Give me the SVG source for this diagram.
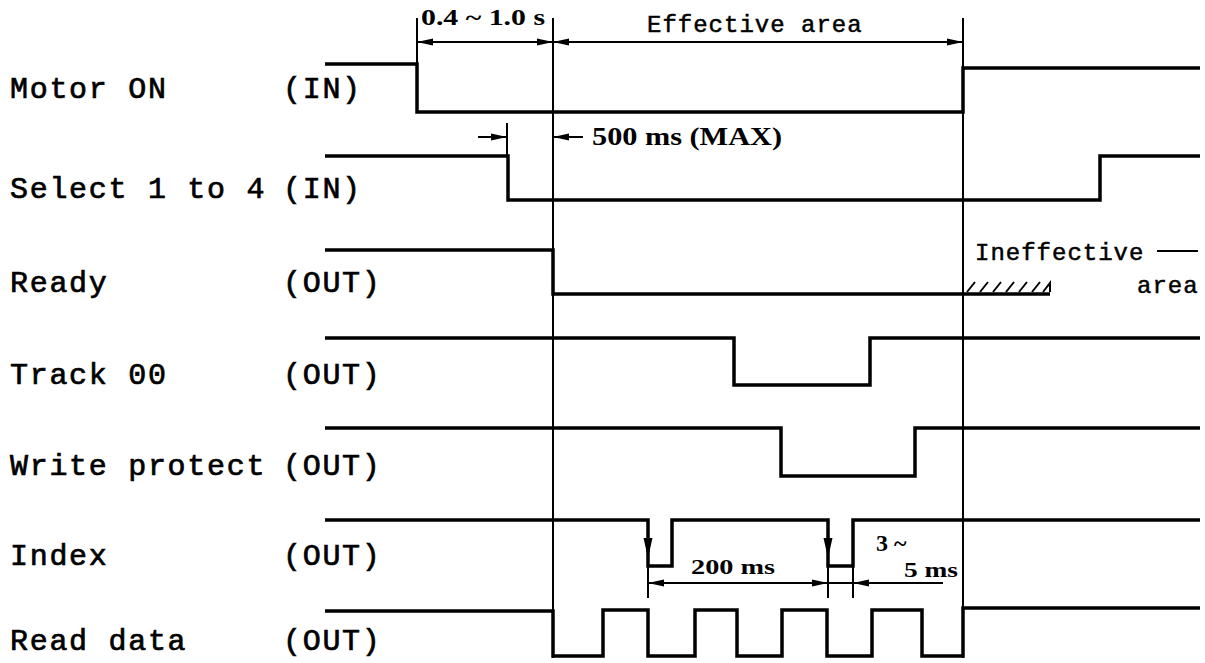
<svg xmlns="http://www.w3.org/2000/svg" width="1205" height="663" viewBox="0 0 1205 663">
<defs>
<marker id="ah" viewBox="0 0 16 8" refX="16" refY="4" markerWidth="16" markerHeight="8" markerUnits="userSpaceOnUse" orient="auto-start-reverse">
<path d="M0,0.6 L16,4 L0,7.4 z" fill="#000"/>
</marker>
<marker id="ahb" viewBox="0 0 20 10" refX="20" refY="5" markerWidth="20" markerHeight="10" markerUnits="userSpaceOnUse" orient="auto">
<path d="M0,0.5 L20,5 L0,9.5 z" fill="#000"/>
</marker>
<style>
.lbl{font-family:"Liberation Mono","DejaVu Sans Mono",monospace;font-size:30px;letter-spacing:1.7px;fill:#000;stroke:#000;stroke-width:0.7px}
.note{font-family:"Liberation Mono","DejaVu Sans Mono",monospace;font-size:24px;letter-spacing:1px;fill:#000;stroke:#000;stroke-width:0.5px}
.ser{font-family:"Liberation Serif","DejaVu Serif",serif;font-weight:bold;fill:#000}
.sig{fill:none;stroke:#000;stroke-width:3.5;stroke-linejoin:miter}
.ref{fill:none;stroke:#000;stroke-width:2}
.dim{fill:none;stroke:#000;stroke-width:2}
.arr{fill:none;stroke:#000;stroke-width:2;marker-end:url(#ah)}
.arrb{fill:none;stroke:#000;stroke-width:2;marker-end:url(#ahb)}
.arr2{fill:none;stroke:#000;stroke-width:2;marker-start:url(#ah);marker-end:url(#ah)}
</style>
</defs>
<rect width="1205" height="663" fill="#fff"/>

<g id="motor-on">
<text class="lbl" x="10" y="98">Motor ON</text>
<text class="lbl" x="283" y="98">(IN)</text>
<polyline class="sig" points="325,64 417,64 417,112 963,112 963,68 1200,68"/>
</g>

<g id="select">
<text class="lbl" x="10" y="198">Select 1 to 4</text>
<text class="lbl" x="283" y="198">(IN)</text>
<polyline class="sig" points="325,156 508,156 508,200 1100,200 1100,156 1200,156"/>
</g>

<g id="ready">
<text class="lbl" x="10" y="292">Ready</text>
<text class="lbl" x="283" y="292">(OUT)</text>
<polyline class="sig" points="325,250 553,250 553,294 1050,294"/>
<g class="ref">
<path d="M967,292 L975,282 M980,292 L988,282 M993,292 L1001,282 M1006,292 L1014,282 M1019,292 L1027,282 M1032,292 L1040,282 M1043,292 L1050,283 L1050,292"/>
</g>
<text class="note" x="975" y="260">Ineffective</text>
<line class="dim" x1="1157" y1="251" x2="1198" y2="251" stroke-width="3"/>
<text class="note" x="1137" y="293">area</text>
</g>

<g id="track00">
<text class="lbl" x="10" y="384">Track 00</text>
<text class="lbl" x="283" y="384">(OUT)</text>
<polyline class="sig" points="325,338 734,338 734,385 870,385 870,338 1200,338"/>
</g>

<g id="write-protect">
<text class="lbl" x="10" y="475">Write protect</text>
<text class="lbl" x="283" y="475">(OUT)</text>
<polyline class="sig" points="325,428 781,428 781,476 915,476 915,428 1200,428"/>
</g>

<g id="index">
<text class="lbl" x="10" y="565">Index</text>
<text class="lbl" x="283" y="565">(OUT)</text>
<polyline class="sig" points="325,520 648,520 648,566 672,566 672,520 828,520 828,566 853,566 853,520 1200,520"/>
</g>

<g id="read-data">
<text class="lbl" x="10" y="650">Read data</text>
<text class="lbl" x="283" y="650">(OUT)</text>
<polyline class="sig" points="325,611 553,611 553,656 603,656 603,610 648,610 648,656 695,656 695,610 737,610 737,656 782,656 782,610 827,610 827,656 872,656 872,610 922,610 922,656 963,656 963,608 1200,608"/>
</g>

<g id="connectors">
<line class="ref" x1="417" y1="18" x2="417" y2="64"/>
<line class="ref" x1="553" y1="18" x2="553" y2="658"/>
<line class="ref" x1="963" y1="18" x2="963" y2="658"/>
<line class="ref" x1="507" y1="123" x2="507" y2="156"/>
<line class="arr2" x1="417" y1="42" x2="553" y2="42"/>
<line class="arr2" x1="553" y1="42" x2="963" y2="42"/>
<line class="arr" x1="478" y1="137" x2="507" y2="137"/>
<line class="arr" x1="583" y1="137" x2="553" y2="137"/>
<line class="arrb" x1="648" y1="520" x2="648" y2="558"/>
<line class="arrb" x1="828" y1="520" x2="828" y2="558"/>
<line class="ref" x1="648" y1="566" x2="648" y2="598"/>
<line class="ref" x1="828" y1="566" x2="828" y2="598"/>
<line class="ref" x1="853" y1="566" x2="853" y2="598"/>
<line class="arr2" x1="648" y1="583" x2="828" y2="583"/>
<line class="dim" x1="828" y1="583" x2="853" y2="583"/>
<line class="arr" x1="943" y1="583" x2="853" y2="583"/>
</g>

<g id="dimension-labels">
<text class="ser" x="421" y="25" font-size="23" textLength="124" lengthAdjust="spacingAndGlyphs">0.4 ~ 1.0 s</text>
<text class="note" x="647" y="32">Effective area</text>
<text class="ser" x="592" y="145" font-size="26" textLength="190" lengthAdjust="spacingAndGlyphs">500 ms (MAX)</text>
<text class="ser" x="691" y="574" font-size="22" textLength="84" lengthAdjust="spacingAndGlyphs">200 ms</text>
<text class="ser" x="876" y="551" font-size="24">3 ~</text>
<text class="ser" x="904" y="577" font-size="22" textLength="54" lengthAdjust="spacingAndGlyphs">5 ms</text>
</g>
</svg>
